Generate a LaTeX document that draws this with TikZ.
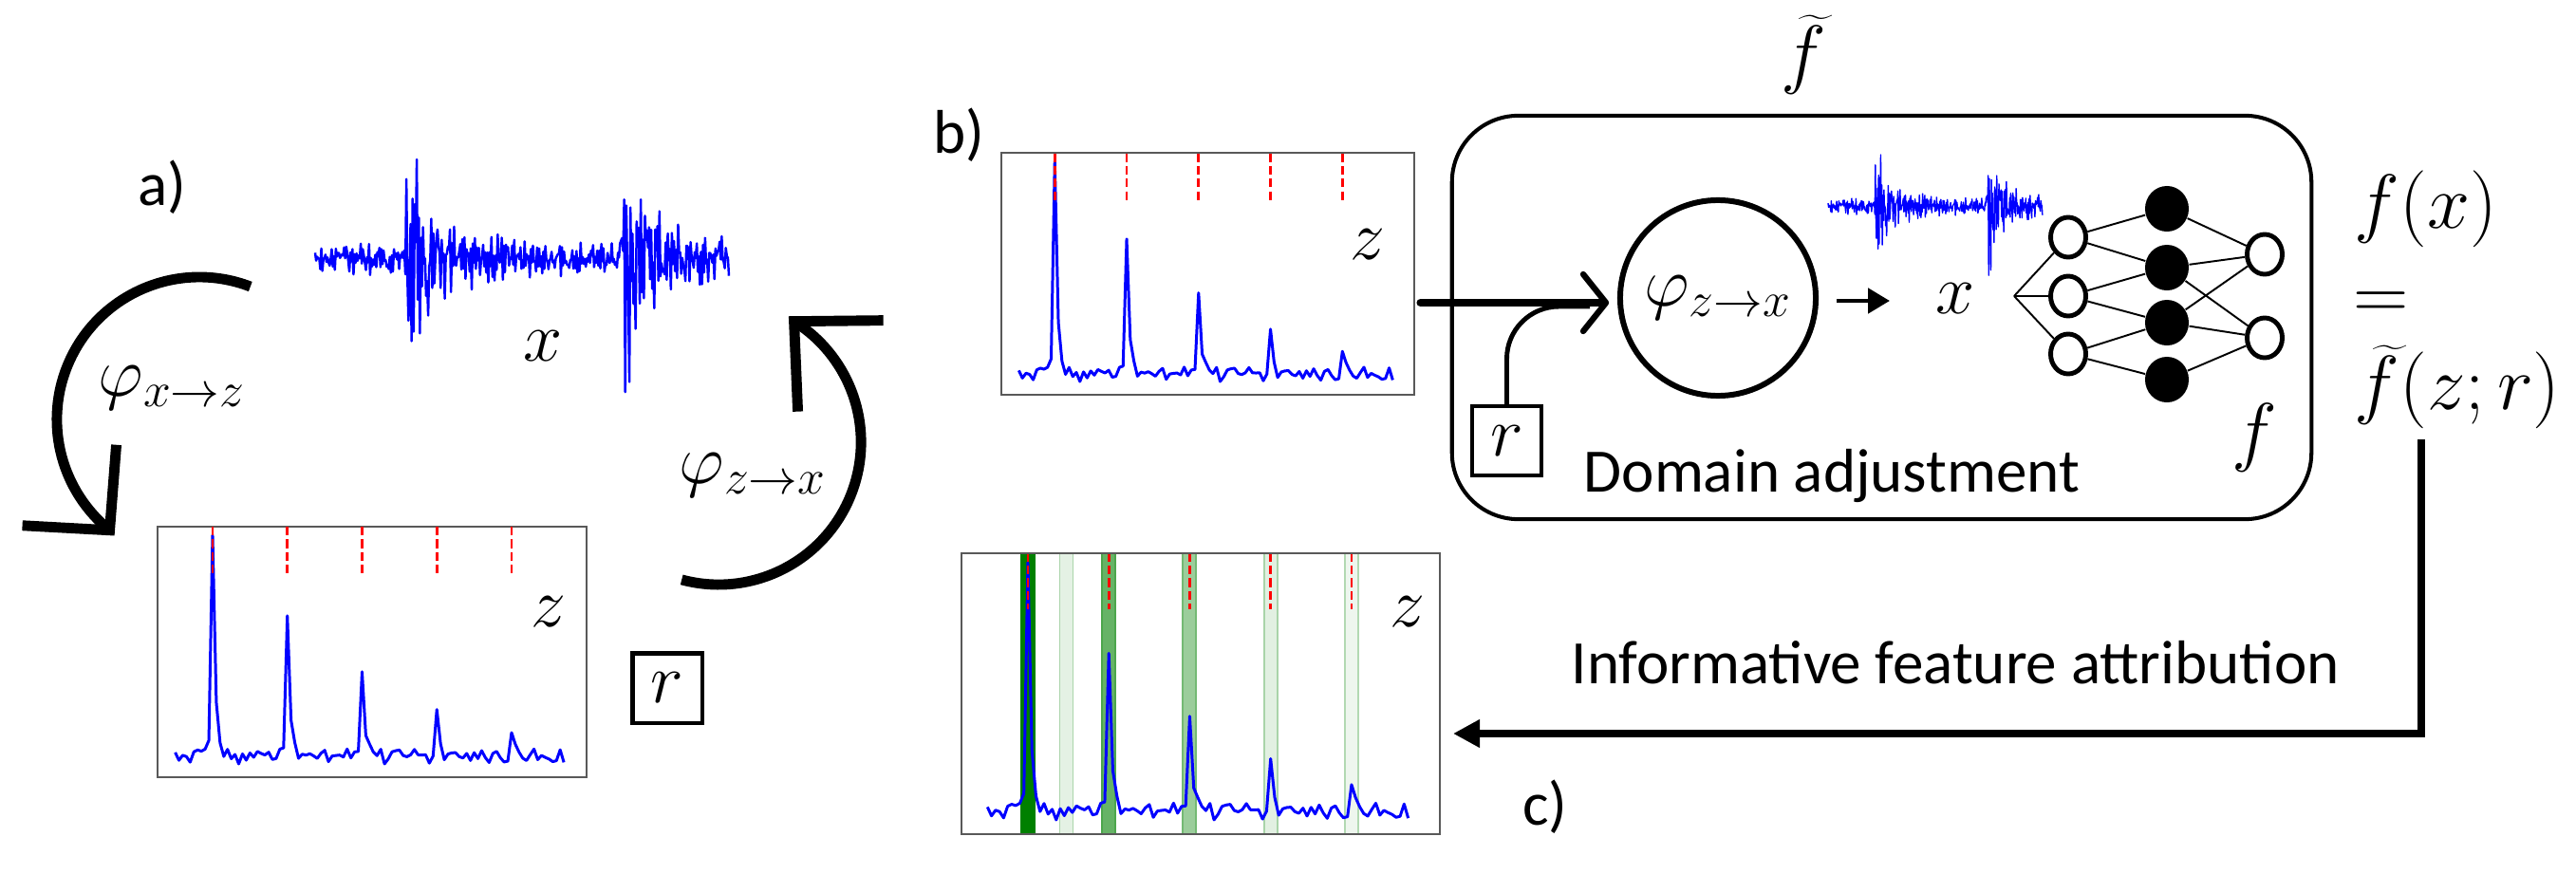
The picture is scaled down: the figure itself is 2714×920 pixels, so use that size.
\RequirePackage{fix-cm}
\documentclass[tikz,border=0pt]{standalone}
\usepackage[no-math]{fontspec}
\setmainfont{Carlito}
\usetikzlibrary{arrows.meta,shapes.geometric,calc}
\definecolor{gA}{HTML}{008000}
\definecolor{gB}{HTML}{E4F1E4}
\definecolor{gC}{HTML}{66B366}
\definecolor{gD}{HTML}{9BCD9B}
\definecolor{gE}{HTML}{E2F0E2}
\definecolor{gF}{HTML}{EEF6EE}
\newcommand{\zsignal}{%
  \pgfmathsetseed{271}%
  \draw[sig] plot[samples=105, domain=0:104, variable=\vv] ({18.6+\vv*3.9375}, {zs(\vv)});
  \foreach \kk in {0,...,4}{\draw[rdash] ({58+\kk*78.75},264) -- ({58+\kk*78.75},211);}
}
\newcommand{\wavepath}[1]{%
  \pgfmathsetseed{97}%
  \draw[blue, line width=#1, line join=round] plot[samples=400, domain=0:436, variable=\vv] (\vv, {wv(\vv)});
}
\begin{document}
\begin{tikzpicture}[x=0.01cm, y=0.01cm,
  declare function={
    pk(\pa,\pb,\pc)=\pc*((abs(\pa-\pb)<0.5)+0.07*(abs(\pa-\pb+1)<0.5)+0.22*(abs(\pa-\pb-1)<0.5)+0.07*(abs(\pa-\pb-2)<0.5));
    zs(\za)=22+8*rand+pk(\za,10,227)+pk(\za,30,149)+pk(\za,50,85)+pk(\za,70,50)+pk(\za,90,24);
    bur(\ba,\bb)=(\ba>\bb-1)*(130*exp(-min(12,max(0,\ba-\bb)/18))+38*exp(-min(12,max(0,\ba-\bb)/70)));
    alt(\aa)=1-2*mod(round(\aa/1.0927),2);
    wv(\wa)=(19+bur(\wa,97)+bur(\wa,322))*(0.45*rand+0.55*alt(\wa)*rnd);
  },
  txt/.style={font=\fontsize{18.5}{22}\selectfont, inner sep=0pt},
  mth/.style={font=\fontsize{21}{25}\selectfont, inner sep=0pt},
  bigmth/.style={font=\fontsize{23}{28}\selectfont, inner sep=0pt},
  plotbox/.style={draw=black!65, line width=0.6pt, inner sep=0pt},
  sig/.style={blue, line width=0.85pt, line join=round},
  rdash/.style={red, line width=0.8pt, dash pattern=on 2.6pt off 1.2pt},
  rbox/.style={draw, line width=1.15pt, minimum size=0.73cm, inner sep=0pt, font=\fontsize{21}{25}\selectfont},
  bigarc/.style={line width=3.1pt, line cap=butt},
  nnopen/.style={draw, ellipse, line width=1.4pt, minimum width=0.37cm, minimum height=0.42cm, inner sep=0pt, fill=white},
  nnfill/.style={ellipse, fill=black, minimum width=0.46cm, minimum height=0.48cm, inner sep=0pt},
  nnedge/.style={line width=0.55pt}
]
\useasboundingbox (0,0) rectangle (2714,920);

% ---------- a) ----------
\node[txt] (la) at (171,723) {a)};
\begin{scope}[shift={(332,648)}] \wavepath{0.7pt} \end{scope}
\node[mth] (xa) at (572,555) {$x$};
\draw[bigarc] (263.8,618) arc[start angle=69, end angle=231, radius=1.5cm] coordinate (ltip);
\draw[bigarc, line join=miter] ($(ltip)+(-92,5)$) -- (ltip) -- ($(ltip)+(7,90)$);
\node[mth, anchor=base west] (phixz) at (103,503) {$\varphi_{x\to z}$};
\draw[bigarc] (718.2,309.1) arc[start angle=-105, end angle=58, radius=1.5cm] coordinate (rtip);
\draw[bigarc, line join=miter] ($(rtip)+(94,1)$) -- (rtip) -- ($(rtip)+(4,-95)$);
\node[mth, anchor=base west] (phizxa) at (715,411) {$\varphi_{z\to x}$};
\node[plotbox, minimum width=4.52cm, minimum height=2.64cm] (za) at (392,233) {};
\begin{scope}[shift={(166,101)}] \zsignal \end{scope}
\node[mth] (zla) at (578,275) {$z$};
\node[rbox] (ra) at (703,195) {$r$};

% ---------- b) ----------
\node[txt] (lb) at (1010,778) {b)};
\node[plotbox, minimum width=4.348cm, minimum height=2.54cm] (zb) at (1272.9,631.5) {};
\begin{scope}[shift={(1055.5,504.5)}, scale=0.962] \zsignal \end{scope}
\node[mth] (zlb) at (1441,662) {$z$};
\node[draw, rounded corners=0.7cm, line width=1.15pt, minimum width=9.05cm, minimum height=4.25cm] (fbox) at (1982.5,585.5) {};
\node[bigmth] (ftl) at (1900,862) {$\widetilde{f}$};
\node[draw, circle, line width=1.7pt, minimum size=2.06cm, inner sep=0pt, font=\fontsize{21}{25}\selectfont] (phic) at (1810,606) {$\varphi_{z\to x}$};
\node[rbox] (rb) at (1587.5,455.5) {$r$};
\coordinate (atip) at (1692,601);
\draw[line width=2.3pt, line cap=round] (zb.east |- atip) ++(5,0) -- ($(atip)+(-4,0)$);
\draw[line width=1.8pt, line cap=round, line join=round] ($(atip)+(-24,30)$) -- (atip) -- ($(atip)+(-24,-30)$);
\draw[line width=1.4pt, rounded corners=0.55cm] (rb.north) |- (1675,597);
\begin{scope}[shift={(1926,703)}, scale=0.518] \wavepath{0.4pt} \end{scope}
\node[mth] (xb) at (2060,605) {$x$};
\draw[line width=1.4pt, -{Triangle[length=0.23cm,width=0.26cm]}] (phic.east) ++(19,-3) -- (1991,603);
% network
\coordinate (fan) at (2122,608);
\foreach \n/\yy in {1/670,2/608,3/547} \node[nnopen] (i\n) at (2179,\yy) {};
\foreach \n/\yy in {1/700,2/638,3/580,4/520} \node[nnfill] (h\n) at (2283,\yy) {};
\foreach \n/\yy in {1/652,2/564} \node[nnopen] (o\n) at (2386,\yy) {};
\foreach \n in {1,2,3} \draw[nnedge] (fan) -- (i\n);
\draw[nnedge] (i1)--(h1) (i1)--(h2) (i2)--(h2) (i2)--(h3) (i3)--(h3) (i3)--(h4)
  (h1)--(o1) (h2)--(o1) (h2)--(o2) (h3)--(o1) (h3)--(o2) (h4)--(o2);
\node[bigmth] (fl) at (2375,459) {$f$};
\node[txt, anchor=base west] (dom) at (1668,402) {Domain adjustment};
\node[bigmth, anchor=west] (fx) at (2480,700) {$f(x)$};
\node[bigmth] (eq) at (2509,598) {$=$};
\node[bigmth, anchor=west] (ftzr) at (2480,512) {$\widetilde{f}(z;r)$};

% ---------- c) ----------
\coordinate (vtop) at (2551,457);
\coordinate (ctip) at (1531,147);
\draw[line width=2.3pt, line join=miter, -{Triangle[length=0.28cm,width=0.28cm]}] (vtop) |- (ctip);
\node[txt, anchor=base west] (ifa) at (1655,200) {Informative feature attribution};
\node[txt] (lc) at (1628,70) {c)};
\foreach \bx/\bc in {1083/gA,1123.5/gB,1168/gC,1253/gD,1339/gE,1424/gF}
  \filldraw[fill=\bc, draw=\bc!75!gA, line width=0.3pt] (\bx-7,41) rectangle (\bx+7,337);
\begin{scope}[shift={(1020.2,40.25)}, xscale=1.0825, yscale=1.125] \zsignal \end{scope}
\node[plotbox, minimum width=5.04cm, minimum height=2.96cm] (zc) at (1265,189) {};
\node[mth] (zlc) at (1483,275) {$z$};
\end{tikzpicture}
\end{document}
